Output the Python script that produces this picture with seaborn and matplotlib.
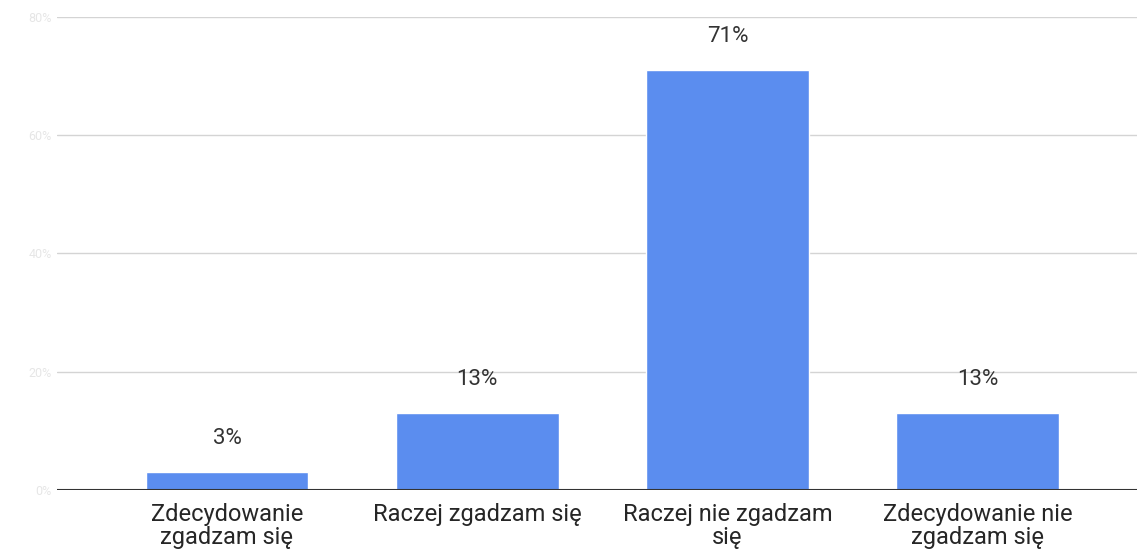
import matplotlib
matplotlib.use("Agg")
import matplotlib.pyplot as plt
import seaborn as sns
import pandas as pd

categories = [
    "Zdecydowanie\nzgadzam się",
    "Raczej zgadzam się",
    "Raczej nie zgadzam\nsię",
    "Zdecydowanie nie\nzgadzam się",
]
values = [3, 13, 71, 13]
y_ticks = [0, 20, 40, 60, 80]

sns.set_theme(style="white")
plt.rcParams["font.family"] = ["Roboto", "DejaVu Sans"]

df = pd.DataFrame({"category": categories, "value": values})

fig = plt.figure(figsize=(11.37, 5.54), dpi=100)
ax = fig.add_axes([57 / 1137, 64 / 554, 1080 / 1137, 473 / 554])

sns.barplot(data=df, x="category", y="value", color="#5b8def",
            width=0.65, saturation=1, ax=ax)

ax.set_xlim(-0.679, 3.636)
ax.set_ylim(0, 80)
ax.set_yticks(y_ticks)
ax.set_yticklabels([f"{t}%" for t in y_ticks], color="#e6e6e6", fontsize=9)
ax.yaxis.grid(True, color="#d4d4d4", linewidth=1)
ax.set_axisbelow(True)
ax.axhline(0, color="#333333", linewidth=1.5)
for s in ax.spines.values():
    s.set_visible(False)

ax.tick_params(axis="x", length=0, pad=9, labelsize=17, colors="#262626")
ax.tick_params(axis="y", length=0, pad=4)
for lbl in ax.get_xticklabels():
    lbl.set_linespacing(1.02)
ax.set_xlabel("")
ax.set_ylabel("")

for i, v in enumerate(values):
    ax.annotate(f"{v}%", (i, v), xytext=(0, 24), textcoords="offset points",
                ha="center", va="center", fontsize=16, color="#333333")

fig.savefig("out.png", dpi=100)
